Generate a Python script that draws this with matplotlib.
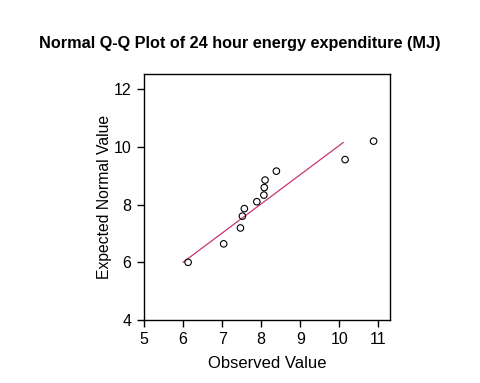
import matplotlib
matplotlib.use("Agg")
import matplotlib.pyplot as plt

plt.rcParams['font.family'] = ['Liberation Sans', 'DejaVu Sans']

observed = [6.13, 7.04, 7.47, 7.52, 7.57, 7.89, 8.07, 8.08, 8.10, 8.39, 10.15, 10.88]
expected = [6.00, 6.64, 7.19, 7.60, 7.86, 8.10, 8.33, 8.59, 8.85, 9.16, 9.56, 10.20]
line_x = [6.0, 10.1]
line_y = [6.0, 10.15]

xticks = [5, 6, 7, 8, 9, 10, 11]
yticks = [4, 6, 8, 10, 12]

fig = plt.figure(figsize=(4.8, 3.83), dpi=100)
ax = fig.add_axes([0.300, 0.1645, 0.5125, 0.6425])

ax.plot(line_x, line_y, color="#cc3377", linewidth=0.9)
ax.scatter(observed, expected, s=22, facecolors="none", edgecolors="black", linewidths=0.8, zorder=3)

ax.set_xlim(5, 11.3)
ax.set_ylim(4, 12.53)
ax.set_xticks(xticks)
ax.set_yticks(yticks)
ax.tick_params(direction="out", length=5, width=1, labelsize=11.5, pad=4)
for s in ax.spines.values():
    s.set_linewidth(1)

ax.set_xlabel("Observed Value", fontsize=12, labelpad=6)
ax.set_ylabel("Expected Normal Value", fontsize=11.3, labelpad=1)
fig.suptitle("Normal Q-Q Plot of 24 hour energy expenditure (MJ)", fontsize=11.7,
             fontweight="bold", y=0.905)

fig.savefig("out.png", dpi=100)
